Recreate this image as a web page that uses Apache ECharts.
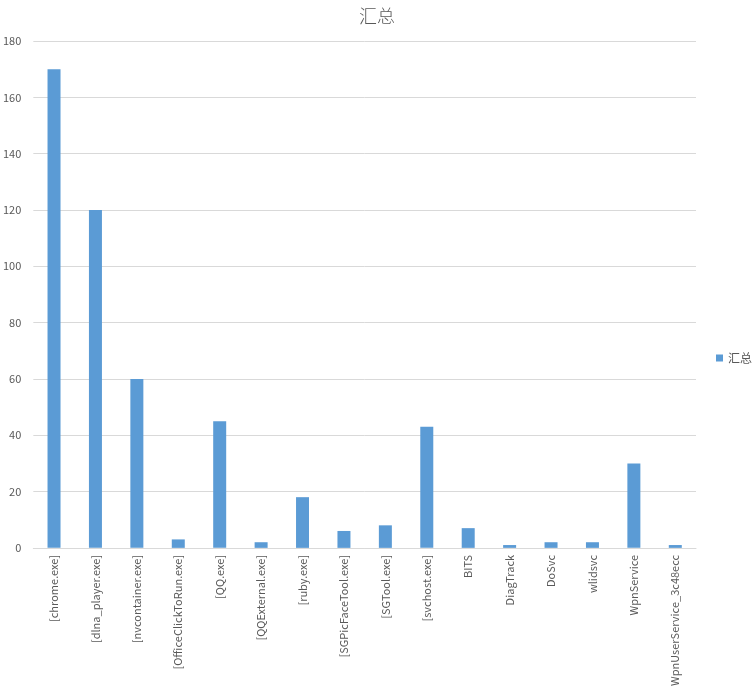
<!DOCTYPE html>
<html>
<head>
<meta charset="utf-8">
<script src="https://cdn.jsdelivr.net/npm/echarts@6/dist/echarts.min.js"></script>
<style>
  html, body { margin: 0; padding: 0; background: #fff; }
  #chart { width: 754px; height: 689px; }
</style>
</head>
<body>
<div id="chart"></div>
<script>
// Process / service names along the x axis
const categories = [
  '[chrome.exe]', '[dlna_player.exe]', '[nvcontainer.exe]', '[OfficeClickToRun.exe]',
  '[QQ.exe]', '[QQExternal.exe]', '[ruby.exe]', '[SGPicFaceTool.exe]',
  '[SGTool.exe]', '[svchost.exe]', 'BITS', 'DiagTrack',
  'DoSvc', 'wlidsvc', 'WpnService', 'WpnUserService_3c48ecc'
];
// Totals per process
const totals = [170, 120, 60, 3, 45, 2, 18, 6, 8, 43, 7, 1, 2, 2, 30, 1];
const seriesName = '汇总';
const yTicks = { min: 0, max: 180, interval: 20 };

const textColor = '#595959';
const gridColor = '#d9d9d9';
const fontFamily = '"Noto Sans CJK SC", "Liberation Sans", sans-serif';

const chart = echarts.init(document.getElementById('chart'), null, { renderer: 'canvas' });
chart.setOption({
  animation: false,
  title: {
    text: seriesName,
    left: 'center',
    top: 2,
    textStyle: { color: textColor, fontSize: 18, fontWeight: 300, fontFamily }
  },
  legend: {
    data: [seriesName],
    left: 716,
    top: 352,
    padding: 0,
    icon: 'rect',
    itemWidth: 7,
    itemHeight: 7,
    textStyle: { color: textColor, fontSize: 12, fontFamily, width: 30, overflow: 'none' }
  },
  grid: { left: 30, right: 58, top: 41, bottom: 140, containLabel: false },
  xAxis: {
    type: 'category',
    data: categories,
    axisLine: { lineStyle: { color: gridColor } },
    axisTick: { show: false },
    axisLabel: {
      rotate: 90,
      interval: 0,
      margin: 7,
      color: textColor,
      fontSize: 11,
      fontFamily
    }
  },
  yAxis: {
    type: 'value',
    min: yTicks.min,
    max: yTicks.max,
    interval: yTicks.interval,
    axisLine: { show: false },
    axisTick: { show: false },
    splitLine: { lineStyle: { color: gridColor } },
    axisLabel: { color: textColor, fontSize: 11, fontFamily, margin: 12 }
  },
  series: [{
    name: seriesName,
    type: 'bar',
    data: totals,
    barWidth: 13,
    itemStyle: { color: '#5b9bd5' }
  }]
});
</script>
</body>
</html>
